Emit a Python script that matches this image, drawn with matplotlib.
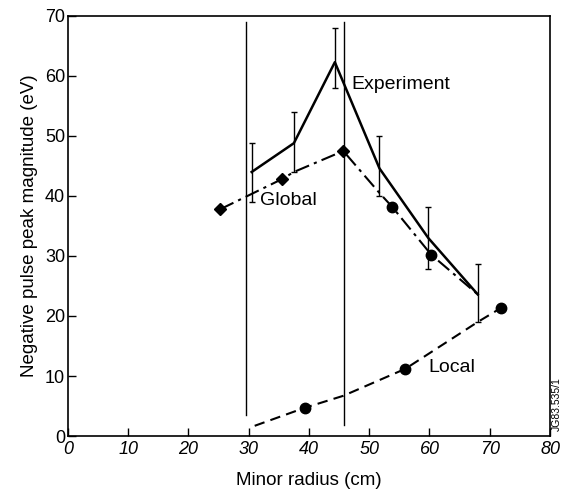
import matplotlib
matplotlib.use("Agg")
import matplotlib.pyplot as plt

plt.rcParams['font.family'] = ['Liberation Sans', 'DejaVu Sans']

# Experiment (solid line with error bars)
exp_r = [30.5, 37.5, 44.3, 51.7, 59.8, 68.0]
exp_v = [44.0, 48.8, 62.3, 44.6, 33.0, 23.6]
exp_lo = [39.0, 44.0, 58.0, 40.0, 27.8, 19.0]
exp_hi = [48.8, 54.0, 68.0, 50.0, 38.1, 28.7]

# Global model (dash-dot)
glob_r = [25.3, 35.5, 37.5, 45.7, 51.7, 53.8, 60.3, 68.0]
glob_v = [37.8, 42.8, 44.0, 47.5, 40.5, 38.2, 30.2, 23.6]
glob_mark_d = [0, 1, 3]
glob_mark_o = [5, 6]

# Local model (dashed)
loc_r = [31.0, 39.3, 45.7, 56.0, 68.0, 71.8]
loc_v = [1.7, 4.7, 6.7, 11.2, 19.0, 21.3]
loc_mark = [1, 3, 5]

# vertical markers at r = 30 and 46 cm
vlines = [(29.5, 3.5, 69.0), (45.8, 1.8, 69.0)]

fig = plt.figure(figsize=(5.7, 4.93), dpi=100)
ax = fig.add_axes([0.119, 0.1156, 0.846, 0.852])

for x, y0, y1 in vlines:
    ax.plot([x, x], [y0, y1], color='black', lw=1.0)

ax.plot(exp_r, exp_v, color='black', lw=1.8)
err_lo = [v - lo for v, lo in zip(exp_v, exp_lo)]
err_hi = [hi - v for v, hi in zip(exp_v, exp_hi)]
ax.errorbar(exp_r, exp_v, yerr=[err_lo, err_hi], fmt='none', ecolor='black',
            elinewidth=1.0, capsize=2, capthick=1.0)

ax.plot(glob_r, glob_v, color='black', lw=1.5, dashes=(7, 2.5, 1.5, 2.5))
ax.plot([glob_r[i] for i in glob_mark_d], [glob_v[i] for i in glob_mark_d],
        'D', color='black', ms=6)
ax.plot([glob_r[i] for i in glob_mark_o], [glob_v[i] for i in glob_mark_o],
        'o', color='black', ms=7.5)

ax.plot(loc_r, loc_v, color='black', lw=1.5, dashes=(5, 3))
ax.plot([loc_r[i] for i in loc_mark], [loc_v[i] for i in loc_mark],
        'o', color='black', ms=7.5)

ax.text(47.0, 58.5, 'Experiment', fontsize=14, va='center', ha='left')
ax.text(31.8, 39.3, 'Global', fontsize=14, va='center', ha='left')
ax.text(59.8, 11.5, 'Local', fontsize=14, va='center', ha='left')

ax.set_xlim(0, 80)
ax.set_ylim(0, 70)
ax.set_xticks(range(0, 81, 10))
ax.set_yticks(range(0, 71, 10))
ax.tick_params(direction='in', length=6, width=1, labelsize=13,
               top=False, right=False)
ax.tick_params(axis='y', pad=2)
for lab in ax.get_xticklabels():
    lab.set_fontstyle('italic')
for sp in ax.spines.values():
    sp.set_linewidth(1.2)

ax.set_xlabel('Minor radius (cm)', fontsize=13.5, labelpad=10)
ax.set_ylabel('Negative pulse peak magnitude (eV)', fontsize=13.5, labelpad=5)

fig.text(0.977, 0.125, 'JG83.535/1', rotation=90, fontsize=7.5,
         ha='center', va='bottom')

fig.savefig('out.png', dpi=100)
